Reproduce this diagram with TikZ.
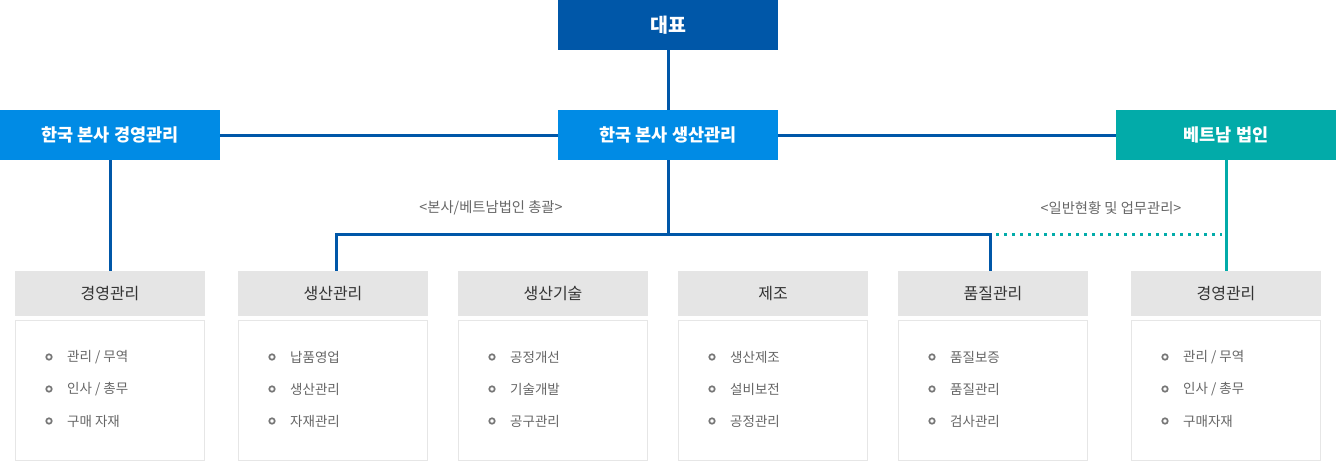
\documentclass[tikz,border=0pt]{standalone}
\usepackage{fontspec}
\setmainfont{Noto Sans CJK KR}
\definecolor{dblue}{HTML}{0057A8}
\definecolor{lblue}{HTML}{008BE5}
\definecolor{teal}{HTML}{02ABA9}
\definecolor{hgray}{HTML}{E5E5E5}
\definecolor{bgray}{HTML}{E6E6E6}
\definecolor{tdark}{HTML}{333333}
\definecolor{titem}{HTML}{666666}
\definecolor{bul}{HTML}{777777}
\tikzset{
  topbox/.style={minimum width=220pt,minimum height=50pt,inner sep=0pt,text=white,font=\fontsize{17.5}{17.5}\selectfont\bfseries},
  hdr/.style={fill=hgray,minimum width=190pt,minimum height=45pt,inner sep=0pt,text=tdark,font=\fontsize{16}{16}\selectfont},
  body/.style={draw=bgray,line width=1pt,fill=white,minimum width=189pt,minimum height=140pt,inner sep=0pt},
  item/.style={anchor=west,inner sep=0pt,text=titem,font=\fontsize{13.5}{13.5}\selectfont},
  bullet/.style={circle,draw=bul,line width=1.7pt,minimum size=5.5pt,inner sep=0pt},
  conn/.style={draw=dblue,line width=3pt},
  tconn/.style={draw=teal,line width=3pt},
  note/.style={text=titem,font=\fontsize{14.3}{14.3}\selectfont,inner sep=0pt}
}
\begin{document}
\begin{tikzpicture}[x=1pt,y=-1pt]
\useasboundingbox (0,0) rectangle (1336,461);
% top row
\node[topbox,fill=dblue,font=\fontsize{19.5}{19.5}\selectfont\bfseries] (ceo) at (668,25) {대표};
\node[topbox,fill=lblue] (mgmt) at (110,135) {한국 본사 경영관리};
\node[topbox,fill=lblue] (prod) at (668,135) {한국 본사 생산관리};
\node[topbox,fill=teal] (vn) at (1226,135) {베트남 법인};
% bottom boxes
\foreach \n/\x/\t in {b1/110/경영관리, b2/333/생산관리, b3/553/생산기술, b4/773/제조, b5/993/품질관리, b6/1226/경영관리}{
  \node[hdr] (\n h) at (\x,293.5) {\t};
  \node[body] (\n b) at (\x,390.5) {};
}
% items
\foreach \n/\a/\b/\c in {b1/{관리 / 무역}/{인사 / 총무}/{구매 자재}, b2/납품영업/생산관리/자재관리, b3/공정개선/기술개발/공구관리, b4/생산제조/설비보전/공정관리, b5/품질보증/품질관리/검사관리, b6/{관리 / 무역}/{인사 / 총무}/구매자재}{
  \node[bullet] (\n p1) at ([xshift=34pt]\n b.west |- 0,357) {};
  \node[bullet] (\n p2) at ([xshift=34pt]\n b.west |- 0,389) {};
  \node[bullet] (\n p3) at ([xshift=34pt]\n b.west |- 0,421) {};
  \node[item] (\n t1) at ([xshift=18pt]\n p1.center) {\a};
  \node[item] (\n t2) at ([xshift=18pt]\n p2.center) {\b};
  \node[item] (\n t3) at ([xshift=18pt]\n p3.center) {\c};
}
% connectors
\coordinate (busL) at (336,234);
\coordinate (busR) at (990,234);
\coordinate (busM) at (668,234);
\draw[conn] (ceo.south) -- (prod.north);
\draw[conn] (mgmt.east) -- (prod.west);
\draw[conn] (prod.east) -- (vn.west);
\draw[conn] (mgmt.south) -- (b1h.north);
\draw[conn] (prod.south) -- (busM);
\draw[conn] (b2h.north -| busL) -- (busL) -- (busR) -- (b5h.north -| busR);
\draw[tconn] (vn.south) -- (b6h.north);
\coordinate (dotL) at (996,234);
\coordinate (dotR) at (1222,234);
\draw[teal,line width=3pt,dash pattern=on 3pt off 5pt] (dotL) -- (dotR);
% notes
\node[note] (n1) at (491,208) {<본사/베트남법인 총괄>};
\node[note] (n2) at (1111,208) {<일반현황 및 업무관리>};
\end{tikzpicture}
\end{document}
